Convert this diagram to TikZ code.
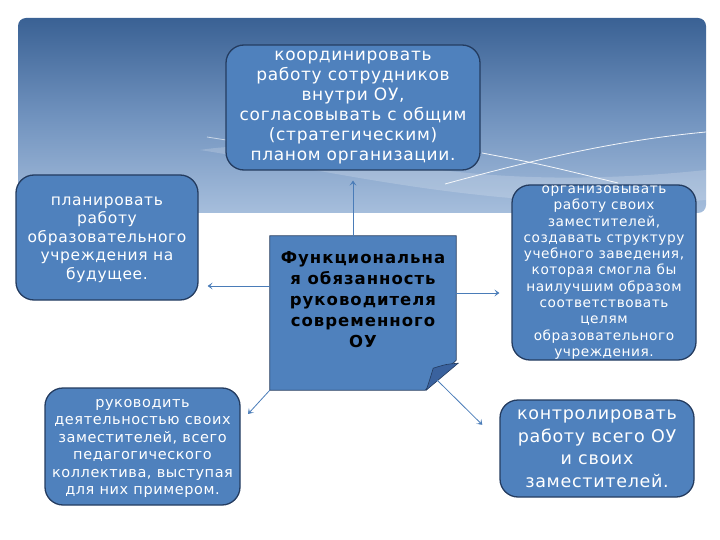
\documentclass[tikz,border=0pt]{standalone}
\usepackage{fontspec}
\setmainfont{DejaVu Sans}[LetterSpace=4]
\usepackage{xcolor}
\usetikzlibrary{arrows.meta}

\definecolor{boxblue}{RGB}{79,129,189}
\definecolor{boxline}{RGB}{36,60,96}
\definecolor{foldblue}{RGB}{58,98,158}
\definecolor{linkblue}{RGB}{74,124,184}
\definecolor{skytop}{RGB}{58,97,148}
\definecolor{skymid}{RGB}{112,146,190}
\definecolor{skylow}{RGB}{166,190,220}

\begin{document}
\begin{tikzpicture}[x=1pt,y=-1pt,
  task/.style={draw=boxline,line width=1.3pt,fill=boxblue,rounded corners=18pt,
    text=white,align=center,inner sep=0pt},
  link/.style={draw=linkblue,line width=0.8pt,
    -{Stealth[length=5pt,width=7pt,inset=2.5pt]}}]
\useasboundingbox (0,0) rectangle (720,540);
% sky banner
\shade[top color=skytop,bottom color=skylow,middle color=skymid,rounded corners=8pt]
  (18,213) -- (18,18) -- (706,18) -- (706,213) [sharp corners] -- cycle;
\fill[white,opacity=0.18] (200,150) .. controls (330,130) and (420,200) .. (706,170)
  -- (706,200) .. controls (500,215) and (330,170) .. (200,150);
\draw[white,line width=0.8pt,opacity=0.9] (445,184) .. controls (540,158) and (620,140) .. (706,132);
\draw[white,line width=0.8pt,opacity=0.9] (482,153) .. controls (540,164) .. (618,183);
\draw[white,line width=0.8pt,opacity=0.6] (207,137) -- (226,140);

% boxes
\node[task,minimum width=254pt,minimum height=125pt,font={\fontsize{17}{20}\selectfont}] (coord) at (353,107.5)
  {координировать\\работу сотрудников\\внутри ОУ,\\согласовывать с общим\\(стратегическим)\\планом организации.};
\node[task,minimum width=182pt,minimum height=125pt,font={\fontsize{15.5}{18.5}\selectfont}] (plan) at (107,237.5)
  {\strut планировать\\работу\\образовательного\\учреждения на\\будущее.};
\node[task,minimum width=184pt,minimum height=175pt,font={\fontsize{13.7}{16.3}\selectfont}] (org) at (604,272.5)
  {организовывать\\работу своих\\заместителей,\\создавать структуру\\учебного заведения,\\которая смогла бы\\наилучшим образом\\соответствовать\\целям\\образовательного\\учреждения.};
\node[task,minimum width=195pt,minimum height=117pt,font={\fontsize{14.5}{17.5}\selectfont}] (lead) at (142.5,446.5)
  {\strut руководить\\деятельностью своих\\заместителей, всего\\педагогического\\коллектива, выступая\\для них примером.};
\node[task,minimum width=194pt,minimum height=97pt,font={\fontsize{17.5}{22.5}\selectfont}] (ctrl) at (597,448.5)
  {контролировать\\работу всего ОУ\\и своих\\заместителей.};

% central note with folded corner
\node[minimum width=186pt,minimum height=154pt,inner sep=0pt] (centre) at (363,313) {};
\filldraw[fill=boxblue,draw=boxline,line width=0.8pt]
  (centre.north west) -- (centre.north east) -- ([yshift=30pt]centre.south east)
  -- ([xshift=-31pt]centre.south east) -- (centre.south west) -- cycle;
\filldraw[fill=foldblue,draw=boxline,line width=0.6pt]
  ([xshift=-30pt]centre.south east) .. controls ([xshift=-26pt,yshift=12pt]centre.south east)
  .. ([xshift=-23pt,yshift=22pt]centre.south east)
  .. controls ([xshift=-10pt,yshift=26pt]centre.south east) .. ([xshift=2pt,yshift=27pt]centre.south east) -- cycle;
\node[align=center,font={\bfseries\addfontfeature{LetterSpace=6}\fontsize{16.5}{21}\selectfont},inner sep=0pt] (duty) at ([yshift=13pt]centre.center)
  {Функциональна\\я обязанность\\руководителя\\современного\\ОУ};

% arrows
\coordinate (cw) at ([yshift=27pt]centre.west);
\coordinate (ce) at ([yshift=20pt]centre.east);
\coordinate (cf) at ([xshift=-19pt,yshift=10pt]centre.south east);
\draw[link,shorten >=10pt] (coord.south |- centre.north) -- (coord.south);
\draw[link,shorten >=9pt] (cw) -- (cw -| plan.east);
\draw[link,shorten >=12pt] (ce) -- (ce -| org.west);
\draw[link,shorten >=11pt] (centre.south west) -- (lead.14);
\draw[link,shorten >=24pt] (cf) -- (ctrl.176);
\end{tikzpicture}
\end{document}
